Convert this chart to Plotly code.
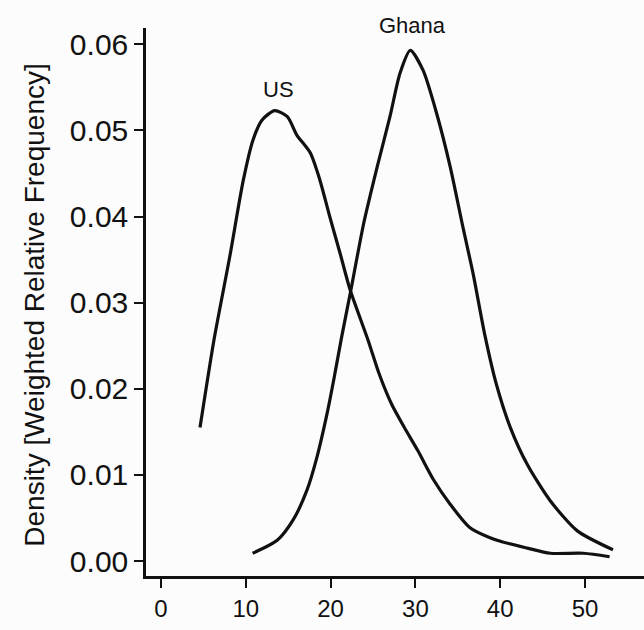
import plotly.graph_objects as go

# Data
us_x = [4.6, 6.25, 8.1, 9.7, 10.85, 11.9, 13.4, 14.9, 16.0, 17.6, 18.75, 19.9, 21.1,
        22.3, 24.4, 25.7, 27.2, 28.7, 30.3, 32.1, 34.1, 36.4, 38.8, 40.3, 43.2, 45.9, 49.8, 52.9]
us_y = [0.0155, 0.0257, 0.0353, 0.0442, 0.0489, 0.0512, 0.0523, 0.0516, 0.0495, 0.0474,
        0.0442, 0.0400, 0.0358, 0.0315, 0.0257, 0.0218, 0.0182, 0.0155, 0.0128, 0.0095,
        0.0066, 0.0039, 0.0027, 0.0022, 0.0015, 0.0009, 0.0009, 0.0005]

ghana_x = [10.8, 13.7, 15.6, 17.2, 18.4, 19.6, 20.4, 21.3, 22.4, 23.9, 25.5, 27.0, 28.2,
           29.4, 30.9, 32.5, 34.1, 35.6, 36.8, 38.2, 39.5, 41.2, 43.2, 45.9, 49.1, 53.3]
ghana_y = [0.0009, 0.0024, 0.0048, 0.0082, 0.0121, 0.0172, 0.0212, 0.0260, 0.0315, 0.0392,
           0.0458, 0.0516, 0.0567, 0.0593, 0.0570, 0.0520, 0.0458, 0.0388, 0.0334, 0.0262,
           0.0207, 0.0155, 0.0112, 0.0070, 0.0035, 0.0013]

x_ticks = [0, 10, 20, 30, 40, 50]
y_ticks = [0.00, 0.01, 0.02, 0.03, 0.04, 0.05, 0.06]
y_tick_labels = ["0.00", "0.01", "0.02", "0.03", "0.04", "0.05", "0.06"]

labels = ["US", "Ghana"]
label_x = [13.8, 29.7]
label_y_paper = [0.887, 1.005]

y_title = "Density [Weighted Relative Frequency]"

FONT = "Liberation Sans, Arial, Helvetica, sans-serif"
INK = "#111111"

fig = go.Figure()
for xs, ys, name in [(us_x, us_y, "US"), (ghana_x, ghana_y, "Ghana")]:
    fig.add_trace(go.Scatter(x=xs, y=ys, mode="lines", name=name,
                             line=dict(color=INK, width=3.2, shape="spline", smoothing=0.7),
                             showlegend=False, hoverinfo="skip"))

for t, xv, yv in zip(labels, label_x, label_y_paper):
    fig.add_annotation(x=xv, y=yv, xref="x", yref="paper", text=t, showarrow=False,
                       font=dict(family=FONT, size=22, color=INK),
                       xanchor="center", yanchor="middle")

fig.add_annotation(x=(35 - 146) / 498, y=0.495, xref="paper", yref="paper",
                   text=y_title, textangle=-90, showarrow=False,
                   font=dict(family=FONT, size=28, color=INK),
                   xanchor="center", yanchor="middle")

fig.update_layout(
    width=644, height=630,
    margin=dict(l=146, r=0, t=28, b=54, pad=0),
    paper_bgcolor="#fcfcfc", plot_bgcolor="#fcfcfc",
    showlegend=False,
)
fig.update_xaxes(range=[-1.77, 56.96], showgrid=False, zeroline=False,
                 showline=True, linecolor=INK, linewidth=2.5,
                 ticks="outside", ticklen=9, tickwidth=2, tickcolor=INK,
                 tickvals=x_ticks, ticktext=[str(v) for v in x_ticks],
                 tickfont=dict(family=FONT, size=24, color=INK))
fig.update_yaxes(range=[-0.00174, 0.0619], showgrid=False, zeroline=False,
                 showline=True, linecolor=INK, linewidth=2.5,
                 ticks="outside", ticklen=9, tickwidth=2, tickcolor=INK,
                 tickvals=y_ticks, ticktext=y_tick_labels,
                 tickfont=dict(family=FONT, size=30, color=INK))

# remove the default page margin so the figure fills the window exactly
fig.write_html("out.html",
               config={"displayModeBar": False},
               post_script="document.body.style.margin='0';document.body.style.overflow='hidden';")
